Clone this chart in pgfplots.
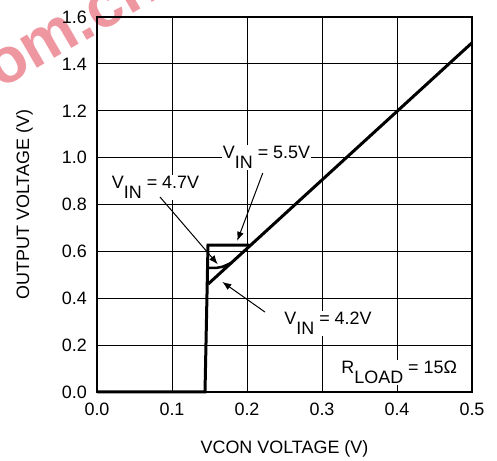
\documentclass[border=0pt]{standalone}
\usepackage{pgfplots}
\pgfplotsset{compat=1.18}
\usepackage{fontspec}
\setmainfont{Liberation Sans}
\usetikzlibrary{arrows.meta}
\definecolor{wmark}{RGB}{235,125,138}
\newcommand{\sub}[1]{\raisebox{-10bp}{#1}}
\begin{document}
\begin{tikzpicture}
\fontsize{18}{21}\selectfont
% watermark
\node[rotate=30, anchor=base west, inner sep=0pt, text=wmark, opacity=0.8,
  font=\fontsize{64}{66}\selectfont\bfseries] at (0bp,371bp) {om.cn};
\begin{axis}[
  name=ax,
  at={(97bp,69bp)},
  anchor=south west,
  scale only axis,
  width=375bp, height=375bp,
  xmin=0, xmax=0.5, ymin=0, ymax=1.6,
  xtick={0,0.1,...,0.5}, ytick={0,0.2,...,1.6},
  xticklabels={0.0,0.1,0.2,0.3,0.4,0.5},
  yticklabels={0.0,0.2,0.4,0.6,0.8,1.0,1.2,1.4,1.6},
  major tick length=0pt,
  grid=major,
  major grid style={black, line width=1bp},
  axis line style={line width=1.6bp},
  tick label style={font=\fontsize{18}{21}\selectfont},
  /pgf/number format/assume math mode=true,
  xticklabel style={yshift=-5bp},
  yticklabel style={xshift=-4bp},
  clip=false,
]
% main characteristic, VIN = 5.5V
\addplot[line width=3bp, line join=miter] coordinates {
  (0,0) (0.144,0) (0.148,0.627) (0.203,0.627)};
% VIN = 4.7V step
\addplot[line width=2.5bp] coordinates {
  (0.148,0.53) (0.160,0.53) (0.167,0.534) (0.173,0.542) (0.179,0.551)};
% common slope (VIN = 4.2V)
\addplot[line width=3bp] coordinates {
  (0.148,0.46) (0.5,1.49)};

\node[fill=white, inner sep=1bp] at (axis cs:0.226,1.0) {V\sub{IN} = 5.5V};
\node[fill=white, inner sep=1bp] at (axis cs:0.078,0.872) {V\sub{IN} = 4.7V};
\node[fill=white, inner sep=1bp] at (axis cs:0.308,0.292) {V\sub{IN} = 4.2V};
\node[fill=white, inner sep=1bp] at (axis cs:0.403,0.082) {R\sub{LOAD} = 15Ω};

\draw[line width=1bp, -{Latex[length=9bp,width=7bp]}] (axis cs:0.221,0.934) -- (axis cs:0.187,0.645);
\draw[line width=1bp, -{Latex[length=9bp,width=7bp]}] (axis cs:0.084,0.832) -- (axis cs:0.161,0.545);
\draw[line width=1bp, -{Latex[length=9bp,width=7bp]}] (axis cs:0.224,0.341) -- (axis cs:0.167,0.47);
\end{axis}
\node[rotate=90, anchor=south, inner sep=0pt] at ([xshift=-64bp]ax.west) {OUTPUT VOLTAGE (V)};
\node[anchor=north, inner sep=0pt] at ([yshift=-48bp]ax.south) {VCON VOLTAGE (V)};
\pgfresetboundingbox
\path[use as bounding box] (0,0) rectangle (497bp,461bp);
\end{tikzpicture}
\end{document}
